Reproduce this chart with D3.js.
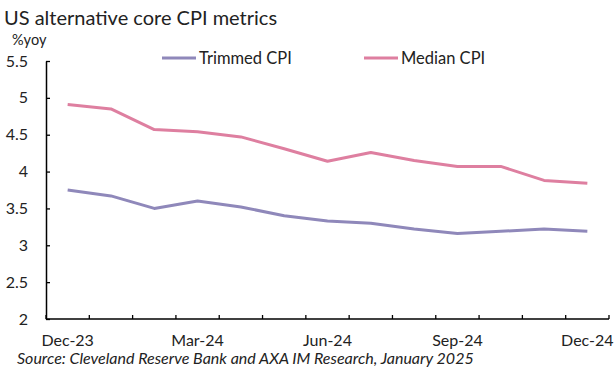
<!DOCTYPE html>
<html><head><meta charset="utf-8">
<script src="https://cdn.jsdelivr.net/npm/d3@7"></script>
<style>body{margin:0;background:#fff}svg{display:block}</style>
</head><body><svg id="c" width="614" height="379"></svg>
<script>
const months = ["Dec-23","Jan-24","Feb-24","Mar-24","Apr-24","May-24","Jun-24","Jul-24","Aug-24","Sep-24","Oct-24","Nov-24","Dec-24"];
const tickLabels = ["Dec-23","Mar-24","Jun-24","Sep-24","Dec-24"];
const trimmed = [3.75,3.67,3.50,3.60,3.52,3.40,3.33,3.30,3.22,3.16,3.19,3.22,3.19];
const median  = [4.91,4.85,4.57,4.54,4.47,4.31,4.14,4.26,4.15,4.07,4.07,3.88,3.84];
const yTicks = [2,2.5,3,3.5,4,4.5,5,5.5];
const seriesNames = ["Trimmed CPI","Median CPI"];
const colors = ["#8f88ba","#de7fa0"];

const font = "Lato, 'Open Sans', sans-serif";
const svg = d3.select("#c");
const m = {l:46};
const x = d3.scaleBand().domain(months).range([m.l, 609]);
const y = d3.scaleLinear().domain([2,5.5]).range([319, 61]);

svg.append("text").attr("x",4).attr("y",25).attr("font-family",font).attr("font-size",20).attr("fill","#222").text("US alternative core CPI metrics");
svg.append("text").attr("x",12).attr("y",45).attr("font-family",font).attr("font-size",14.5).attr("fill","#222").text("%yoy");

// y axis
const ya = svg.append("g").attr("transform",`translate(${m.l},0)`)
  .call(d3.axisLeft(y).tickValues(yTicks).tickSizeInner(-4).tickSizeOuter(0).tickPadding(18).tickFormat(d=>String(d)));
ya.select(".domain").attr("stroke","#000").attr("stroke-width",1.5);
ya.selectAll(".tick line").attr("stroke","#000").attr("stroke-width",1.3);
ya.selectAll(".tick text").attr("font-family",font).attr("font-size",16).attr("fill","#222");

// x axis: ticks at category boundaries
const xa = svg.append("g").attr("transform",`translate(0,319)`);
xa.append("line").attr("x1",m.l).attr("x2",609).attr("y1",0).attr("y2",0).attr("stroke","#000").attr("stroke-width",1.5);
const bounds = months.map(d=>x(d)).concat([x(months[months.length-1])+x.bandwidth()]);
xa.selectAll("line.t").data(bounds).join("line").attr("class","t")
  .attr("x1",d=>d).attr("x2",d=>d).attr("y1",0).attr("y2",-4).attr("stroke","#000").attr("stroke-width",1.3);
xa.selectAll("text").data(tickLabels).join("text")
  .attr("x",d=>x(d)+x.bandwidth()/2).attr("y",27).attr("text-anchor","middle")
  .attr("font-family",font).attr("font-size",16).attr("fill","#222").text(d=>d);

const line = d3.line().x((d,i)=>x(months[i])+x.bandwidth()/2).y(d=>y(d));
[trimmed, median].forEach((s,i)=>{
  svg.append("path").datum(s).attr("d",line).attr("fill","none").attr("stroke",colors[i]).attr("stroke-width",3).attr("stroke-linejoin","round");
});

// legend
const legX = [162,364];
seriesNames.forEach((n,i)=>{
  svg.append("line").attr("x1",legX[i]).attr("x2",legX[i]+34).attr("y1",58).attr("y2",58).attr("stroke",colors[i]).attr("stroke-width",3);
  svg.append("text").attr("x",legX[i]+37).attr("y",63.5).attr("font-family",font).attr("font-size",16.5).attr("fill","#222").text(n);
});

svg.append("text").attr("x",17).attr("y",364).attr("font-family",font).attr("font-style","italic").attr("font-size",16).attr("fill","#222")
  .text("Source: Cleveland Reserve Bank and AXA IM Research, January 2025");
</script></body></html>
